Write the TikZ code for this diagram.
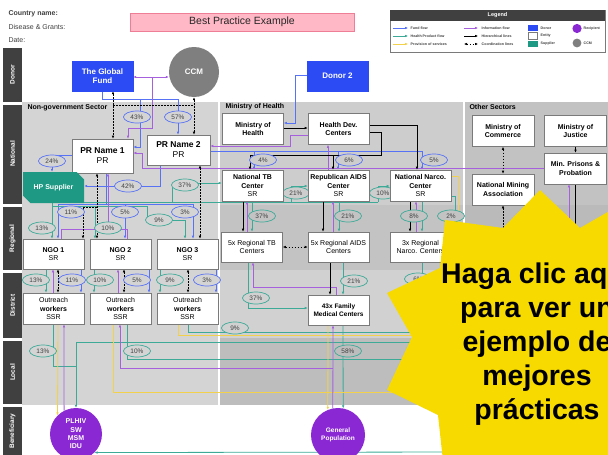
\documentclass[tikz,border=0pt]{standalone}
\usepackage{fontspec}
\setmainfont{Liberation Sans}
\usetikzlibrary{arrows.meta,shapes.geometric,shapes.misc}

\definecolor{fundblue}{HTML}{5872F5}
\definecolor{donorblue}{HTML}{2D4BF5}
\definecolor{prodteal}{HTML}{3DAA98}
\definecolor{supteal}{HTML}{1E9A84}
\definecolor{servyellow}{HTML}{F2D24C}
\definecolor{infopurple}{HTML}{A660DE}
\definecolor{recpurple}{HTML}{8A28D4}
\definecolor{ccmgray}{HTML}{7F7F7F}
\definecolor{bandgray}{HTML}{404040}
\definecolor{boxgray}{HTML}{7A7A7A}
\definecolor{txtgray}{HTML}{404040}
\definecolor{bgngo}{HTML}{D4D4D4}
\definecolor{bgmohN}{HTML}{CDCDCD}
\definecolor{bgmohR}{HTML}{C3C3C3}
\definecolor{bgmohD}{HTML}{D1D1D1}
\definecolor{bgmohL}{HTML}{BDBDBD}
\definecolor{bgothN}{HTML}{C2C2C2}
\definecolor{bgothR}{HTML}{BABABA}
\definecolor{titlepink}{HTML}{FFB8C6}
\definecolor{titleedge}{HTML}{EE7E96}
\definecolor{staryellow}{HTML}{F7DA00}

\pgfdeclarelayer{bglayer}
\pgfdeclarelayer{wirelayer}
\pgfdeclarelayer{toplayer}
\pgfsetlayers{bglayer,wirelayer,main,toplayer}

\tikzset{
  >={Latex[length=3pt,width=2.6pt]},
  flow/.style={line width=0.8pt,->},
  fund/.style={flow,draw=fundblue},
  prod/.style={flow,draw=prodteal},
  serv/.style={flow,draw=servyellow},
  info/.style={flow,draw=infopurple},
  hier/.style={flow,draw=black},
  coordline/.style={line width=0.6pt,draw=black,dash pattern=on 1.6pt off 1.4pt,<->},
  entity/.style={draw=boxgray,line width=0.6pt,fill=white,minimum width=61pt,minimum height=31pt,
    inner sep=1pt,align=center,font=\fontsize{7}{8.2}\selectfont\bfseries,text=black},
  donor/.style={fill=donorblue,draw=donorblue,minimum width=61pt,minimum height=30pt,
    align=center,text=white,font=\fontsize{8}{9.5}\selectfont\bfseries},
  pct/.style={ellipse,line width=0.7pt,minimum width=27pt,minimum height=12pt,inner sep=0pt,
    font=\fontsize{6.5}{7}\selectfont,text=txtgray},
  pctb/.style={pct,draw=fundblue},
  pctt/.style={pct,draw=prodteal},
  rowlab/.style={rotate=90,text=white,font=\fontsize{6.5}{7}\selectfont\bfseries},
  seclab/.style={anchor=west,font=\fontsize{7}{8}\selectfont\bfseries,text=black},
  recip/.style={circle,fill=recpurple,text=white,align=center,inner sep=0pt},
  legtxt/.style={anchor=west,inner sep=0.5pt,font=\fontsize{3.6}{4}\selectfont\bfseries,text=txtgray},
  hdrtxt/.style={anchor=west,font=\fontsize{7}{8}\selectfont,text=txtgray},
}

\begin{document}
\begin{tikzpicture}[x=1pt,y=-1pt]
\useasboundingbox (0,0) rectangle (608,455);

% ---------- backgrounds and row bands ----------
\begin{pgfonlayer}{bglayer}
\fill[white] (0,0) rectangle (608,455);
\fill[bgngo] (22,102) rectangle (218,405);
\fill[bgmohN] (220,102) rectangle (463,205);
\fill[bgmohR] (220,205) rectangle (463,270);
\fill[bgmohD] (220,270) rectangle (463,338);
\fill[bgmohL] (220,338) rectangle (463,405);
\fill[bgothN] (465,102) rectangle (608,205);
\fill[bgothR] (465,205) rectangle (608,405);
\fill[bandgray] (3,48) rectangle (22,102);
\fill[bandgray] (3,104.5) rectangle (22,204);
\fill[bandgray] (3,207) rectangle (22,270);
\fill[bandgray] (3,273) rectangle (22,338);
\fill[bandgray] (3,341) rectangle (22,404);
\fill[bandgray] (3,407) rectangle (22,455);
\end{pgfonlayer}

\node[rowlab] (rDonor) at (12.5,75) {Donor};
\node[rowlab] (rNat) at (12.5,154) {National};
\node[rowlab] (rReg) at (12.5,238.5) {Regional};
\node[rowlab] (rDis) at (12.5,305.5) {District};
\node[rowlab] (rLoc) at (12.5,372.5) {Local};
\node[rowlab] (rBen) at (12.5,431) {Beneficiary};

% ---------- header ----------
\node[hdrtxt,font=\fontsize{7}{8}\selectfont\bfseries] (hCountry) at (5,14) {Country name:};
\node[hdrtxt] (hDisease) at (5,27) {Disease \& Grants:};
\node[hdrtxt] (hDate) at (5,40) {Date:};
\node[draw=titleedge,fill=titlepink,line width=0.6pt,minimum width=224pt,minimum height=18pt,
  font=\fontsize{10.5}{12}\selectfont,text=black!85] (title) at (242,22) {Best Practice Example};

% ---------- legend ----------
\draw[boxgray,fill=white,line width=0.5pt] (390,10) rectangle (605,52);
\fill[bandgray] (390,10) rectangle (605,21);
\node[text=white,font=\fontsize{5.5}{6}\selectfont\bfseries] (legTitle) at (497.5,15.5) {Legend};
\draw[fund,line width=0.5pt] (393,28) -- (408,28);
\draw[prod,line width=0.5pt] (393,36) -- (408,36);
\draw[serv,line width=0.5pt] (393,44) -- (408,44);
\node[legtxt] (lgA) at (410,28) {Fund flow};
\node[legtxt] (lgB) at (410,36) {Health Product flow};
\node[legtxt] (lgC) at (410,44) {Provision of services};
\draw[info,line width=0.5pt] (464,28) -- (478,28);
\draw[hier,line width=0.5pt] (464,36) -- (478,36);
\draw[coordline,line width=0.5pt] (464,44) -- (478,44);
\node[legtxt] (lgD) at (481,28) {Information flow};
\node[legtxt] (lgE) at (481,36) {Hierarchical lines};
\node[legtxt] (lgF) at (481,44) {Coordination lines};
\fill[donorblue] (528,24.5) rectangle (537.5,31);
\draw[boxgray,fill=white,line width=0.5pt] (528,32.5) rectangle (537.5,39);
\fill[supteal] (528,40.5) rectangle (537.5,47);
\node[legtxt] (lgG) at (540,28) {Donor};
\node[legtxt] (lgH) at (540,36) {Entity};
\node[legtxt] (lgI) at (540,44) {Supplier};
\fill[recpurple] (577,28.5) circle (4.6);
\fill[ccmgray] (577,43) circle (4.4);
\node[legtxt] (lgJ) at (583,29) {Recipient};
\node[legtxt] (lgK) at (583,43) {CCM};

% ---------- sector titles ----------
\node[seclab] (sNGO) at (24,108) {Non-government Sector};
\node[seclab] (sMOH) at (222,106.5) {Ministry of Health};
\node[seclab] (sOTH) at (466,106.5) {Other Sectors};

% ---------- share ovals ----------
\node[pctb,fill=bgngo] (p43) at (137,117) {43\%};
\node[pctb,fill=bgngo] (p57) at (178,117) {57\%};
\node[pctb,fill=bgngo] (p24) at (52,161) {24\%};
\node[pctb,fill=bgngo] (p42) at (128,186) {42\%};
\node[pctt,fill=bgngo] (p37a) at (185,185) {37\%};
\node[pctb,fill=bgngo] (p11a) at (71,212) {11\%};
\node[pctb,fill=bgngo] (p5a) at (125,212) {5\%};
\node[pctb,fill=bgngo] (p3a) at (185,212) {3\%};
\node[pctt,fill=bgngo] (p9a) at (159,220) {9\%};
\node[pctt,fill=bgngo] (p13a) at (42,228) {13\%};
\node[pctt,fill=bgngo] (p10a) at (108,228) {10\%};
\node[pctt,fill=bgngo] (p13b) at (36,280) {13\%};
\node[pctb,fill=bgngo] (p11b) at (72,280) {11\%};
\node[pctt,fill=bgngo] (p10b) at (100,280) {10\%};
\node[pctb,fill=bgngo] (p5b) at (137,280) {5\%};
\node[pctt,fill=bgngo] (p9b) at (170,280) {9\%};
\node[pctb,fill=bgngo] (p3b) at (207,280) {3\%};
\node[pctt,fill=bgngo] (p13c) at (43,351) {13\%};
\node[pctt,fill=bgngo] (p10c) at (137,351) {10\%};
\node[pctb,fill=bgmohN] (p4) at (263,160) {4\%};
\node[pctb,fill=bgmohN] (p6) at (349,160) {6\%};
\node[pctb,fill=bgmohN] (p5c) at (434,160) {5\%};
\node[pctt,fill=bgmohN] (p21a) at (296,193) {21\%};
\node[pctt,fill=bgmohN] (p10d) at (383,193) {10\%};
\node[pctt,fill=bgmohR] (p37b) at (262,216) {37\%};
\node[pctt,fill=bgmohR] (p21b) at (348,216) {21\%};
\node[pctt,fill=bgmohR] (p8) at (414,216) {8\%};
\node[pctt,fill=bgmohR] (p2) at (451,216) {2\%};
\node[pctt,fill=bgmohD] (p21c) at (354,281) {21\%};
\node[pctt,fill=bgmohD] (p37c) at (256,298) {37\%};
\node[pctt,fill=bgmohD] (p6b) at (418,279) {6\%};
\node[pctt,fill=bgmohD] (p9c) at (235,328) {9\%};
\node[pctt,fill=bgmohL] (p58) at (348,351) {58\%};

% ---------- donors ----------
\node[donor] (gf) at (102.5,76) {The Global\\Fund};
\node[circle,fill=ccmgray,minimum size=50pt,inner sep=0pt,text=white,
  font=\fontsize{8}{9}\selectfont\bfseries] (ccm) at (194,72) {CCM};
\node[donor] (d2) at (337.5,76) {Donor 2};

% ---------- non-government sector ----------
\node[entity,minimum height=34pt,font=\fontsize{8.5}{10}\selectfont\bfseries] (pr1) at (102.5,156) {PR Name 1\\{\mdseries PR}};
\node[entity,minimum width=63pt,minimum height=30pt,font=\fontsize{8.5}{10}\selectfont\bfseries] (pr2) at (178.5,150) {PR Name 2\\{\mdseries PR}};
\node[chamfered rectangle,chamfered rectangle corners={north east,south west},
  chamfered rectangle xsep=4pt,chamfered rectangle ysep=4pt,
  fill=supteal,minimum width=61pt,minimum height=31pt,inner sep=0pt,text=white,
  font=\fontsize{7}{8}\selectfont\bfseries] (hps) at (53.5,187.5) {HP Supplier};
\node[entity,minimum height=30pt] (ngo1) at (53.5,254) {NGO 1\\{\mdseries SR}};
\node[entity,minimum height=30pt] (ngo2) at (120.5,254) {NGO 2\\{\mdseries SR}};
\node[entity,minimum height=30pt] (ngo3) at (187.5,254) {NGO 3\\{\mdseries SR}};
\node[entity] (ow1) at (53.5,308.5) {{\mdseries Outreach}\\workers\\{\mdseries SSR}};
\node[entity] (ow2) at (120.5,308.5) {{\mdseries Outreach}\\workers\\{\mdseries SSR}};
\node[entity] (ow3) at (187.5,308.5) {{\mdseries Outreach}\\workers\\{\mdseries SSR}};

% ---------- ministry of health ----------
\node[entity] (moh) at (253,129) {Ministry of\\Health};
\node[entity] (hdc) at (338.5,129) {Health Dev.\\Centers};
\node[entity] (ntb) at (252.5,185.5) {National TB\\Center\\{\mdseries SR}};
\node[entity] (rac) at (338.5,185.5) {Republican AIDS\\Center\\{\mdseries SR}};
\node[entity] (nnc) at (420.5,185.5) {National Narco.\\Center\\{\mdseries SR}};
\node[entity,minimum height=30pt,font=\fontsize{7}{8.2}\selectfont] (rtb) at (252,247) {5x Regional TB\\Centers};
\node[entity,minimum height=30pt,font=\fontsize{7}{8.2}\selectfont] (ra5) at (338.5,247) {5x Regional AIDS\\Centers};
\node[entity,minimum height=30pt,font=\fontsize{7}{8.2}\selectfont] (rn3) at (420.5,247) {3x Regional\\Narco. Centers};
\node[entity,minimum height=30pt,font=\fontsize{6.5}{7.8}\selectfont\bfseries] (fmc) at (338.5,310) {43x Family\\Medical Centers};

% ---------- other sectors ----------
\node[entity,minimum width=62pt] (moc) at (503,131) {Ministry of\\Commerce};
\node[entity,minimum width=62pt] (moj) at (575.5,131) {Ministry of\\Justice};
\node[entity,minimum width=62pt] (mpp) at (575.5,168.5) {Min. Prisons \&\\Probation};
\node[entity,minimum width=62pt] (nma) at (503,189.5) {National Mining\\Association};

% ---------- beneficiaries ----------
\node[recip,minimum size=52pt,font=\fontsize{7}{8.4}\selectfont\bfseries] (plh) at (76,434) {PLHIV\\SW\\MSM\\IDU};
\node[recip,minimum size=54pt,font=\fontsize{6.5}{8}\selectfont\bfseries] (gp) at (338,435) {General\\Population};

% free ends of lines that run on under the call-out
\coordinate (sinkA) at (470,342);
\coordinate (sinkB) at (470,359);
\coordinate (sinkC) at (470,332);
\coordinate (sinkD) at (470,392);
\coordinate (sinkE) at (470,335);
\coordinate (sinkF) at (470,452);
\coordinate (sinkG) at (455,300);
\coordinate (sinkH) at (458,300);
\coordinate (sinkI) at (422,300);
\coordinate (sinkJ) at (569,300);
\coordinate (sinkK) at (575,300);
\coordinate (sinkL) at (503,300);

% ---------- connectors ----------
\begin{pgfonlayer}{wirelayer}
% fund flow
\draw[fund] (gf.south) -- (102.5,99) -- (178,99) -- (178,0 |- pr2.north);
\draw[fund] (140,99) -- (140,147) -- (pr1.east |- 0,147);
\draw[fund] (d2.west |- 0,75) -- (295,75) -- (295,123) -- (moh.east |- 0,123);
\draw[fund] (pr2.east |- 0,151) -- (422,151) -- (422,0 |- nnc.north);
\draw[fund] (254,151) -- (254,0 |- ntb.north);
\draw[fund] (338,151) -- (338,0 |- rac.north);
\draw[fund] (160,0 |- pr2.south) -- (160,186) -- (hps.east |- 0,186);
\draw[fund] (pr1.west |- 0,155) -- (52,155) -- (52,0 |- hps.north);
\draw[fund] (106,0 |- pr1.south) -- (106,204) -| (58,0 |- ngo1.north);
\draw[fund] (106,204) -| (193,0 |- ngo3.north);
\draw[fund] (125,204) -- (125,0 |- ngo2.north);
\draw[fund] (81,0 |- ngo1.south) -- (81,0 |- ow1.north);
\draw[fund] (149,0 |- ngo2.south) -- (149,0 |- ow2.north);
\draw[fund] (216,0 |- ngo3.south) -- (216,0 |- ow3.north);
% health products
\draw[prod] (52,0 |- hps.south) -- (52,0 |- ngo1.north);
\draw[prod] (52,206) -| (95,0 |- ngo2.north);
\draw[prod] (95,206) -- (147,206) -- (147,220) -| (185,0 |- ngo3.north);
\draw[prod,-] (hps.east |- 0,202) -- (378,202);
\draw[prod] (172,202) -- (172,183) -- (ntb.west |- 0,183);
\draw[prod] (291,202) -- (291,186) -- (rac.west |- 0,186);
\draw[prod] (378,202) -- (378,186) -- (nnc.west |- 0,186);
\draw[prod] (252,0 |- ntb.south) -- (252,0 |- rtb.north);
\draw[prod] (339,0 |- rac.south) -- (339,0 |- ra5.north);
\draw[prod] (422,0 |- nnc.south) -- (422,0 |- rn3.north);
\draw[prod,-] (nnc.east |- 0,196) -- (455,196) -- (sinkG);
\draw[prod] (248,0 |- rtb.south) -- (248,308) -- (fmc.west |- 0,308);
\draw[prod] (343,0 |- ra5.south) -- (343,0 |- fmc.north);
\draw[prod,-] (422,0 |- rn3.south) -- (sinkI);
\draw[prod] (46,0 |- ngo1.south) -- (46,0 |- ow1.north);
\draw[prod] (94,0 |- ngo2.south) -- (94,0 |- ow2.north);
\draw[prod] (160,0 |- ngo3.south) -- (160,0 |- ow3.north);
\draw[prod] (53,0 |- ow1.south) -- (53,366) -- (76,366) -- (plh.north);
\draw[prod,-] (sinkA) -- (76,342) -- (76,366);
\draw[prod,-] (127,0 |- ow2.south) -- (127,359) -- (sinkB);
\draw[prod,-] (188,0 |- ow3.south) -- (188,332) -- (sinkC);
\draw[prod] (343,0 |- fmc.south) -- (gp.79);
\draw[prod] (sinkF) -- (plh.-45);
% provision of services
\draw[serv] (58,0 |- ow1.south) -- (plh.135);
\draw[serv,-] (113,0 |- ow2.south) -- (113,392) -- (sinkD);
\draw[serv,-] (178,0 |- ow3.south) -- (178,335) -- (sinkE);
\draw[serv] (328,0 |- fmc.south) -- (gp.112);
\draw[serv,-] (nnc.east |- 0,176) -- (458,176) -- (sinkH);
% information
\draw[info,<->] (gf.east |- 0,77) -- (ccm.west |- 0,77);
\draw[info] (152,77) -- (152,128) -- (128,128) -- (128,0 |- pr1.north);
\draw[info] (hdc.west |- 0,135) -- (290,135) -- (290,146) -- (pr2.east |- 0,146);
\draw[info] (mpp.west |- 0,168) -- (142,168) -- (142,153) -- (pr1.east |- 0,153);
\draw[info] (328,0 |- rac.north) -- (328,0 |- hdc.south);
\draw[info] (247,0 |- rtb.north) -- (247,0 |- ntb.south);
\draw[info] (333,0 |- ra5.north) -- (333,0 |- rac.south);
\draw[info] (416,0 |- rn3.north) -- (416,0 |- nnc.south);
\draw[info] (336,0 |- fmc.north) -- (336,287) -- (253,287) -- (253,0 |- rtb.south);
\draw[info] (gp.101) -- (333,0 |- fmc.south);
\draw[info] (333,368) -- (120,368) -- (120,0 |- ow2.south);
\draw[info] (plh.117.5) -- (64,0 |- ow1.south);
\draw[info] (53,0 |- ow1.north) -- (53,0 |- ngo1.south);
\draw[info] (118,0 |- ow2.north) -- (118,0 |- ngo2.south);
\draw[info,-] (61,0 |- ngo1.north) -- (61,229) -- (127,229) -- (127,0 |- ngo2.north);
\draw[info] (108,229) -- (108,0 |- pr1.south);
\draw[info] (sinkJ) -- (569,0 |- mpp.south);
% hierarchy
\draw[hier] (moh.east |- 0,128) -- (hdc.west |- 0,128);
\draw[hier] (hdc.east |- 0,132) -- (381,132) -- (381,155) -- (250,155) -- (250,0 |- ntb.north);
\draw[hier] (333,155) -- (333,0 |- rac.north);
\draw[hier] (hdc.east |- 0,125) -- (417,125) -- (417,0 |- nnc.north);
\draw[hier] (243,0 |- ntb.south) -- (243,0 |- rtb.north);
\draw[hier] (323,0 |- rac.south) -- (323,0 |- ra5.north);
\draw[hier] (410,0 |- nnc.south) -- (410,0 |- rn3.north);
\draw[hier] (330,0 |- ra5.south) -- (330,0 |- fmc.north);
\draw[hier] (moj.south) -- (mpp.north);
\draw[hier,-] (575,0 |- mpp.south) -- (sinkK);
% coordination
\draw[coordline] (ccm.south) -- (194,0 |- pr2.north);
\draw[coordline] (113,0 |- gf.south) -- (113,0 |- pr1.north);
\draw[coordline,-] (113,105) -- (194,105);
\draw[coordline] (97,0 |- pr1.south) -- (97,0 |- ngo2.north);
\draw[coordline,->] (97,207) -- (83,207) -- (83,0 |- ngo1.north);
\draw[coordline] (200,0 |- pr2.south) -- (200,0 |- ngo3.north);
\draw[coordline] (58,0 |- ngo1.south) -- (58,0 |- ow1.north);
\draw[coordline] (124,0 |- ngo2.south) -- (124,0 |- ow2.north);
\draw[coordline] (188,0 |- ngo3.south) -- (188,0 |- ow3.north);
\draw[coordline] (moc.south) -- (nma.north);
\draw[coordline,<-] (nma.south) -- (sinkL);
\draw[coordline] (rtb.east) -- (ra5.west);
\end{pgfonlayer}

% ---------- call-out ----------
\begin{pgfonlayer}{toplayer}
\begin{scope}
\clip (0,0) rectangle (608,455);
\fill[staryellow] (540,190) -- (580,228) -- (620,205) -- (620,470) -- (444,470) -- (438,415)
  -- (387,390) -- (412,337) -- (387,293) -- (440,268) -- (445,220) -- (503,228) -- cycle;
\node[align=center,font=\fontsize{28.5}{34}\selectfont\bfseries,text=black] (cta) at (537,344)
  {Haga clic aquí\\para ver un\\ejemplo de\\mejores\\prácticas};
\end{scope}
\end{pgfonlayer}
\end{tikzpicture}
\end{document}
